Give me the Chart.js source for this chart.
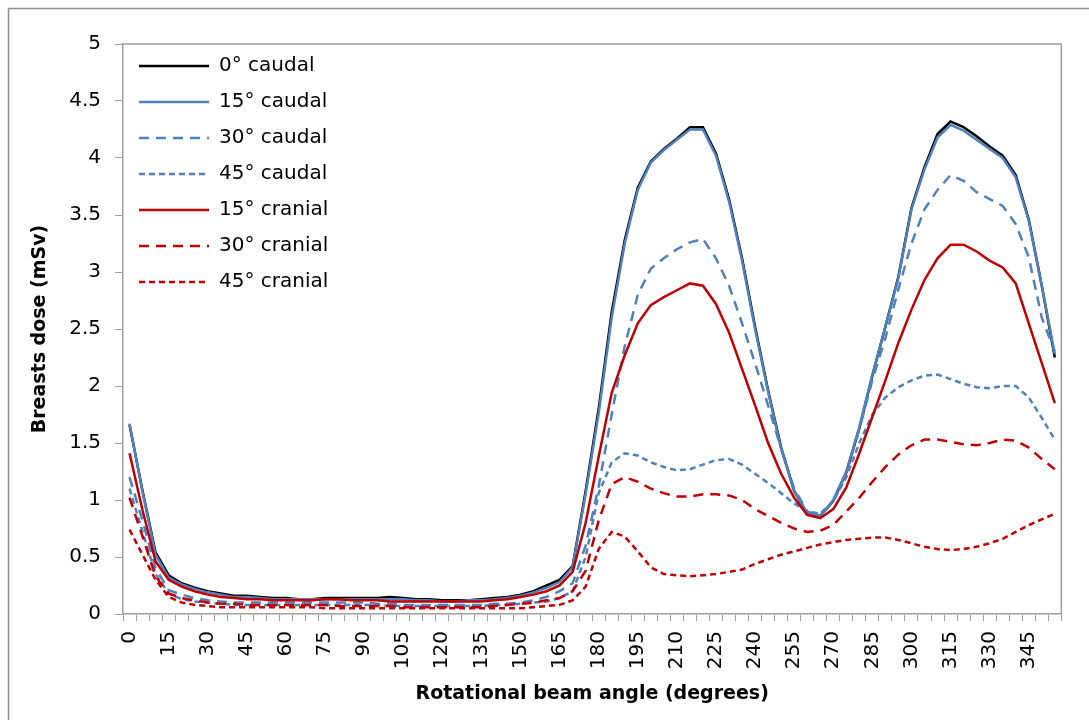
<!DOCTYPE html>
<html>
<head>
<meta charset="utf-8">
<script src="https://cdn.jsdelivr.net/npm/chart.js@4.4.0/dist/chart.umd.min.js"></script>
<style>
  html, body { margin: 0; padding: 0; background: #fff; }
</style>
</head>
<body>
<canvas id="myChart" width="1089" height="720"></canvas>
<script>
var angles = ['0', '5', '10', '15', '20', '25', '30', '35', '40', '45', '50', '55',
    '60', '65', '70', '75', '80', '85', '90', '95', '100', '105', '110', '115',
    '120', '125', '130', '135', '140', '145', '150', '155', '160', '165', '170', '175',
    '180', '185', '190', '195', '200', '205', '210', '215', '220', '225', '230', '235',
    '240', '245', '250', '255', '260', '265', '270', '275', '280', '285', '290', '295',
    '300', '305', '310', '315', '320', '325', '330', '335', '340', '345', '350', '355'];

var caudal0 = [1.66, 1.08, 0.54, 0.34, 0.27, 0.23, 0.2, 0.18, 0.16, 0.16, 0.15, 0.14,
    0.14, 0.13, 0.13, 0.14, 0.14, 0.14, 0.14, 0.14, 0.15, 0.14, 0.13, 0.13,
    0.12, 0.12, 0.12, 0.13, 0.14, 0.15, 0.17, 0.2, 0.25, 0.3, 0.42, 1.08,
    1.8, 2.65, 3.28, 3.74, 3.97, 4.08, 4.17, 4.27, 4.27, 4.04, 3.64, 3.12,
    2.52, 1.96, 1.46, 1.08, 0.88, 0.86, 0.99, 1.24, 1.63, 2.09, 2.52, 2.96,
    3.56, 3.92, 4.21, 4.32, 4.27, 4.19, 4.1, 4.02, 3.85, 3.46, 2.88, 2.25];

var caudal15 = [1.67, 1.07, 0.52, 0.32, 0.26, 0.22, 0.19, 0.17, 0.15, 0.15, 0.14, 0.13,
    0.13, 0.13, 0.13, 0.13, 0.13, 0.13, 0.13, 0.13, 0.13, 0.13, 0.12, 0.12,
    0.11, 0.11, 0.12, 0.12, 0.13, 0.14, 0.16, 0.19, 0.23, 0.28, 0.41, 1.05,
    1.76, 2.6, 3.25, 3.72, 3.96, 4.07, 4.16, 4.25, 4.25, 4.02, 3.62, 3.1,
    2.5, 1.95, 1.45, 1.08, 0.88, 0.86, 1.0, 1.25, 1.64, 2.1, 2.52, 2.95,
    3.55, 3.9, 4.18, 4.29, 4.24, 4.16, 4.08, 4.0, 3.83, 3.45, 2.88, 2.28];

var caudal30 = [1.2, 0.82, 0.4, 0.21, 0.17, 0.14, 0.12, 0.11, 0.1, 0.1, 0.1, 0.1,
    0.1, 0.1, 0.1, 0.1, 0.1, 0.1, 0.1, 0.09, 0.09, 0.08, 0.08, 0.08,
    0.08, 0.08, 0.08, 0.08, 0.09, 0.09, 0.1, 0.12, 0.15, 0.2, 0.27, 0.6,
    1.12, 1.75, 2.35, 2.8, 3.03, 3.12, 3.2, 3.26, 3.29, 3.12, 2.88, 2.55,
    2.2, 1.83, 1.45, 1.1, 0.9, 0.86, 0.99, 1.24, 1.62, 2.05, 2.42, 2.85,
    3.25, 3.55, 3.72, 3.85, 3.8, 3.7, 3.64, 3.58, 3.42, 3.13, 2.6, 2.3];

var caudal45 = [1.1, 0.72, 0.35, 0.18, 0.13, 0.11, 0.1, 0.09, 0.08, 0.08, 0.08, 0.08,
    0.08, 0.08, 0.08, 0.08, 0.08, 0.08, 0.08, 0.08, 0.07, 0.07, 0.07, 0.07,
    0.07, 0.07, 0.07, 0.07, 0.08, 0.08, 0.09, 0.1, 0.11, 0.14, 0.2, 0.5,
    1.06, 1.33, 1.41, 1.39, 1.33, 1.29, 1.26, 1.27, 1.31, 1.35, 1.36, 1.31,
    1.23, 1.15, 1.06, 0.97, 0.9, 0.88, 0.99, 1.2, 1.5, 1.75, 1.9, 1.99,
    2.05, 2.09, 2.1, 2.06, 2.02, 1.99, 1.98, 2.0, 2.0, 1.9, 1.72, 1.53];

var cranial15 = [1.41, 0.91, 0.46, 0.3, 0.24, 0.2, 0.17, 0.15, 0.14, 0.13, 0.13, 0.12,
    0.12, 0.12, 0.12, 0.13, 0.13, 0.12, 0.12, 0.12, 0.11, 0.11, 0.11, 0.11,
    0.11, 0.11, 0.11, 0.11, 0.12, 0.13, 0.15, 0.17, 0.2, 0.25, 0.37, 0.8,
    1.38, 1.94, 2.27, 2.55, 2.71, 2.78, 2.84, 2.9, 2.88, 2.72, 2.47, 2.15,
    1.83, 1.5, 1.23, 1.02, 0.87, 0.84, 0.92, 1.11, 1.41, 1.73, 2.05, 2.38,
    2.67, 2.93, 3.12, 3.24, 3.24, 3.18, 3.1, 3.04, 2.9, 2.55, 2.2, 1.85];

var cranial30 = [1.02, 0.68, 0.33, 0.18, 0.14, 0.12, 0.1, 0.09, 0.09, 0.08, 0.08, 0.08,
    0.08, 0.08, 0.08, 0.08, 0.07, 0.07, 0.07, 0.07, 0.07, 0.06, 0.06, 0.06,
    0.06, 0.06, 0.06, 0.06, 0.07, 0.08, 0.09, 0.1, 0.12, 0.14, 0.2, 0.38,
    0.82, 1.14, 1.2, 1.16, 1.1, 1.06, 1.03, 1.03, 1.05, 1.05, 1.04, 1.0,
    0.92, 0.86, 0.8, 0.75, 0.72, 0.73, 0.78, 0.9, 1.02, 1.16, 1.29, 1.4,
    1.48, 1.53, 1.53, 1.51, 1.49, 1.48, 1.5, 1.53, 1.52, 1.46, 1.36, 1.27];

var cranial45 = [0.74, 0.52, 0.3, 0.15, 0.1, 0.08, 0.07, 0.06, 0.06, 0.06, 0.06, 0.06,
    0.06, 0.06, 0.06, 0.05, 0.05, 0.05, 0.05, 0.05, 0.05, 0.05, 0.05, 0.05,
    0.05, 0.05, 0.05, 0.05, 0.05, 0.05, 0.05, 0.06, 0.07, 0.08, 0.12, 0.24,
    0.57, 0.72, 0.68, 0.55, 0.41, 0.35, 0.34, 0.33, 0.34, 0.35, 0.37, 0.39,
    0.44, 0.48, 0.52, 0.55, 0.58, 0.61, 0.63, 0.65, 0.66, 0.67, 0.67, 0.65,
    0.62, 0.59, 0.57, 0.56, 0.57, 0.59, 0.62, 0.66, 0.72, 0.78, 0.83, 0.88];

var yTicks = ['0', '0.5', '1', '1.5', '2', '2.5', '3', '3.5', '4', '4.5', '5'];

var blue = '#4f81bd';
var red = '#c00000';
var grey = '#a0a0a0';

Chart.defaults.font.family = '"DejaVu Sans", sans-serif';
Chart.defaults.color = '#000';

// one line series; later series sit on top, like in Excel
function series(label, data, color, dash, i) {
    return {
        label: label,
        data: data,
        borderColor: color,
        backgroundColor: color,
        borderWidth: 2.5,
        borderDash: dash,
        pointRadius: 0,
        tension: 0,
        fill: false,
        order: 10 - i
    };
}

// legend items keep the dash of their line
function legendItems(chart) {
    var items = Chart.defaults.plugins.legend.labels.generateLabels(chart);
    items.forEach(function (it) {
        it.lineDash = chart.data.datasets[it.datasetIndex].borderDash;
    });
    return items;
}

// white page, outer frame and the top/right edge of the plot area
var frame = {
    id: 'frame',
    beforeDraw: function (chart) {
        var ctx = chart.ctx;
        ctx.save();
        ctx.fillStyle = '#fff';
        ctx.fillRect(0, 0, chart.width, chart.height);
        ctx.strokeStyle = '#909090';
        ctx.lineWidth = 1.5;
        ctx.strokeRect(8.5, 8.5, chart.width + 20, chart.height + 20);
        ctx.restore();
    },
    beforeDatasetsDraw: function (chart) {
        var a = chart.chartArea, ctx = chart.ctx;
        ctx.save();
        ctx.strokeStyle = grey;
        ctx.lineWidth = 1.5;
        ctx.beginPath();
        ctx.moveTo(a.left, a.top);
        ctx.lineTo(a.right, a.top);
        ctx.lineTo(a.right, a.bottom);
        ctx.stroke();
        ctx.restore();
    }
};

var myChart = new Chart('myChart', {
    type: 'line',
    data: {
        labels: angles,
        datasets: [
            series('0° caudal', caudal0, '#000000', [], 0),
            series('15° caudal', caudal15, blue, [], 1),
            series('30° caudal', caudal30, blue, [10, 7], 2),
            series('45° caudal', caudal45, blue, [6, 4], 3),
            series('15° cranial', cranial15, red, [], 4),
            series('30° cranial', cranial30, red, [10, 7], 5),
            series('45° cranial', cranial45, red, [6, 4], 6)
        ]
    },
    options: {
        responsive: false,
        animation: false,
        devicePixelRatio: 1,
        layout: {
            padding: { top: 44, right: 27, left: 0, bottom: 0 }
        },
        plugins: {
            legend: {
                position: 'chartArea',
                align: 'start',
                title: {
                    display: true,
                    text: '',
                    font: { size: 10 },
                    padding: { top: 28, bottom: 0 }
                },
                labels: {
                    usePointStyle: true,
                    pointStyle: 'line',
                    pointStyleWidth: 70,
                    padding: 16,
                    font: { size: 20 },
                    color: '#000',
                    generateLabels: legendItems,
                    sort: function (a, b) { return a.datasetIndex - b.datasetIndex; }
                }
            },
            tooltip: { enabled: false }
        },
        scales: {
            x: {
                offset: true,
                grid: {
                    offset: true,
                    drawOnChartArea: false,
                    tickLength: 7,
                    color: grey
                },
                border: { color: grey, width: 1.5 },
                ticks: {
                    autoSkip: false,
                    maxRotation: 90,
                    minRotation: 90,
                    padding: 10,
                    font: { size: 20 },
                    color: '#000',
                    callback: function (v, i) { return i % 3 === 0 ? angles[i] : ''; }
                },
                title: {
                    display: true,
                    text: 'Rotational beam angle (degrees)',
                    font: { size: 19, weight: 'bold' },
                    color: '#000',
                    padding: { top: 0, bottom: 15 }
                },
                afterFit: function (s) { s.height = 106; }
            },
            y: {
                min: 0,
                max: 5,
                grid: {
                    drawOnChartArea: false,
                    tickLength: 8,
                    color: grey
                },
                border: { color: grey, width: 1.5 },
                ticks: {
                    stepSize: 0.5,
                    padding: 14,
                    font: { size: 20 },
                    color: '#000',
                    callback: function (v, i) { return yTicks[i]; }
                },
                title: {
                    display: true,
                    text: 'Breasts dose (mSv)',
                    font: { size: 19, weight: 'bold' },
                    color: '#000',
                    padding: { top: 29, bottom: 0 }
                },
                afterFit: function (s) { s.width = 123; }
            }
        }
    },
    plugins: [frame]
});
</script>
</body>
</html>
